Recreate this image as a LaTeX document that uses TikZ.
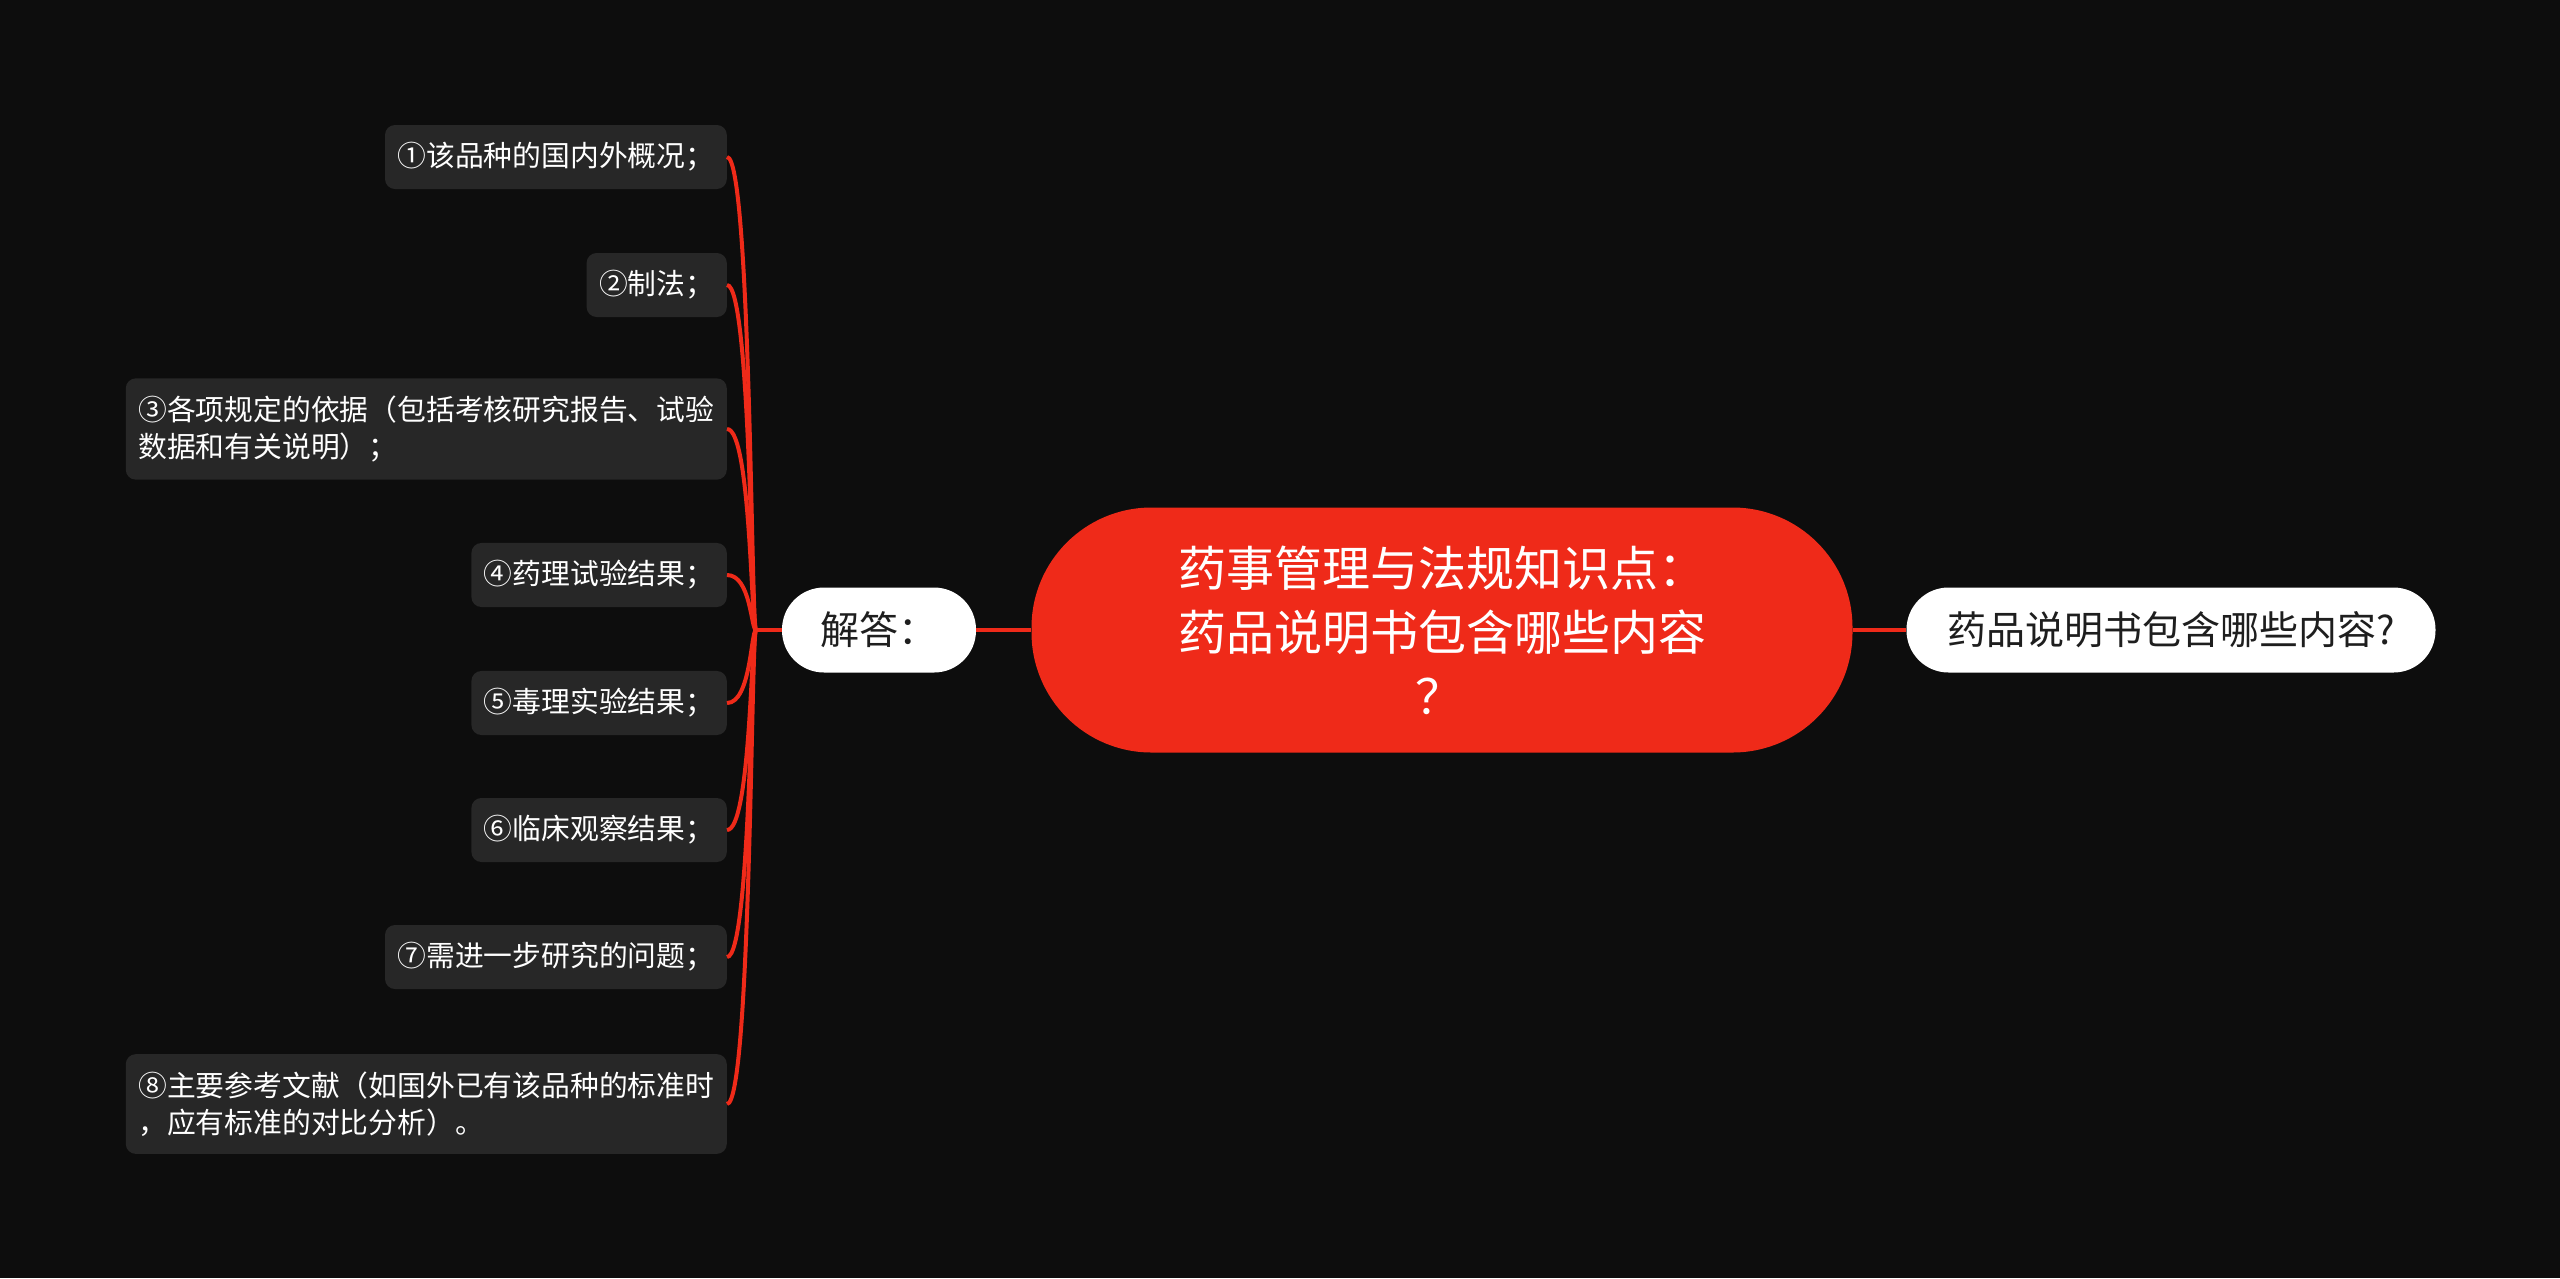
\documentclass[tikz,border=0pt]{standalone}
\usepackage{fontspec}
\setmainfont{Noto Sans CJK SC}
\usetikzlibrary{calc}
\definecolor{bgc}{HTML}{0D0D0D}
\definecolor{mainred}{HTML}{EF2A19}
\definecolor{leafgray}{HTML}{272727}
\definecolor{darktext}{HTML}{1E1E1E}
\tikzset{
  rootbox/.style={fill=mainred, rounded corners=120pt, minimum width=821pt, minimum height=245pt,
    align=center, text=white, font=\fontsize{48}{64}\selectfont, inner sep=0pt},
  secbox/.style={fill=white, rounded corners=42pt, minimum height=85pt, inner ysep=10pt,
    text=darktext, font=\fontsize{39}{46}\selectfont},
  leafbox/.style={fill=leafgray, rounded corners=10pt, text=white, align=left, anchor=east,
    inner xsep=12.5pt, inner ysep=17.5pt, font=\fontsize{28.8}{37}\selectfont},
  link/.style={draw=mainred, line width=4pt},
}
\begin{document}
\begin{tikzpicture}[x=1pt,y=-1pt]
\fill[bgc] (0,0) rectangle (2560,1278);
\useasboundingbox (0,0) rectangle (2560,1278);

\node[rootbox] (root) at (1442,630) {药事管理与法规知识点：\\药品说明书包含哪些内容\\？\hspace*{6pt}};
\node[secbox, minimum width=194pt] (jd) at (879,630) {解答：};
\node[secbox, minimum width=529pt] (q) at (2171,630) {药品说明书包含哪些内容?};

\coordinate (hub) at (756,630);

\node[leafbox] (l1) at (727,157) {①该品种的国内外概况；};
\node[leafbox] (l2) at (727,285) {②制法；};
\node[leafbox] (l3) at (727,429) {③各项规定的依据（包括考核研究报告、试验\\数据和有关说明）；};
\node[leafbox] (l4) at (727,575) {④药理试验结果；};
\node[leafbox] (l5) at (727,703) {⑤毒理实验结果；};
\node[leafbox] (l6) at (727,830) {⑥临床观察结果；};
\node[leafbox] (l7) at (727,957) {⑦需进一步研究的问题；};
\node[leafbox] (l8) at (727,1104) {⑧主要参考文献（如国外已有该品种的标准时\\，应有标准的对比分析）。};

\draw[link] (root.west) -- (jd.east);
\draw[link] (root.east) -- (q.west);
\draw[link] (jd.west) -- (hub);
\foreach \i in {1,...,8}{
  \draw[link] (hub) .. controls (751,630) and ($(l\i.east)+(24,0)$) .. (l\i.east);
}
\end{tikzpicture}
\end{document}
